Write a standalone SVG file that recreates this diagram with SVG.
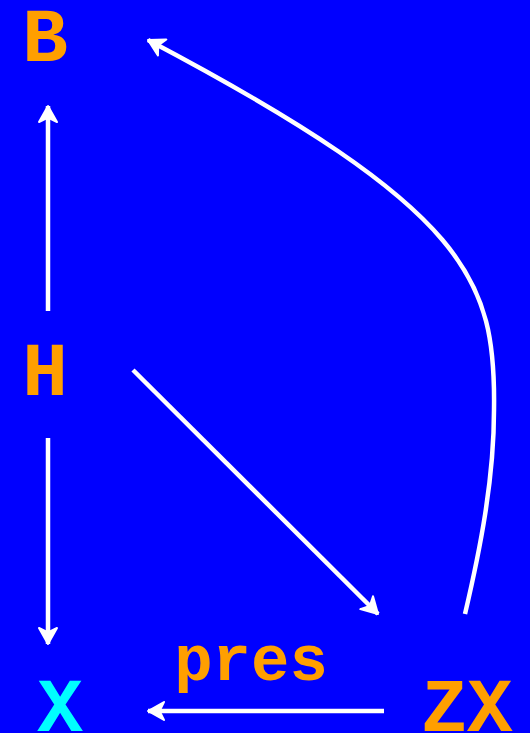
<svg xmlns="http://www.w3.org/2000/svg" width="530" height="733" viewBox="0 0 530 733">
<style>
.lbl{font-family:"Liberation Mono","Courier New",monospace;font-weight:bold;text-anchor:middle}
.n{font-size:76px;fill:#FF9F00}
.c{fill:#00FFFF}
.e{fill:none;stroke:#FFFFFF;stroke-width:4.5;marker-end:url(#ah)}
.el{font-size:64px;fill:#FF9F00}
</style>
<defs>
<marker id="ah" markerUnits="userSpaceOnUse" viewBox="-18 -11 20 22" refX="0" refY="0" markerWidth="20" markerHeight="22" orient="auto">
<path d="M0,0 L-16,-9 L-11.5,0 L-16,9 Z" fill="#FFFFFF" stroke="#FFFFFF" stroke-width="2" stroke-linejoin="round"/>
</marker>
</defs>
<rect width="530" height="733" fill="#0000FF"/>
<g id="connectors">
<path class="e" d="M48,311 L48,106"/>
<path class="e" d="M48,438 L48,644"/>
<path class="e" d="M133,370 L378,614"/>
<path class="e" d="M384,711 L148,711"/>
<path class="e" d="M465,614 C480,550 494,480 494,410 C496,280 470,210 148,40"/>
<text class="lbl el" x="251" y="680">pres</text>
</g>
<g id="node-B"><text class="lbl n" x="45" y="61">B</text></g>
<g id="node-H"><text class="lbl n" x="45" y="395">H</text></g>
<g id="node-X"><text class="lbl n c" x="60" y="731">X</text></g>
<g id="node-ZX"><text class="lbl n" x="467" y="731">ZX</text></g>
</svg>
